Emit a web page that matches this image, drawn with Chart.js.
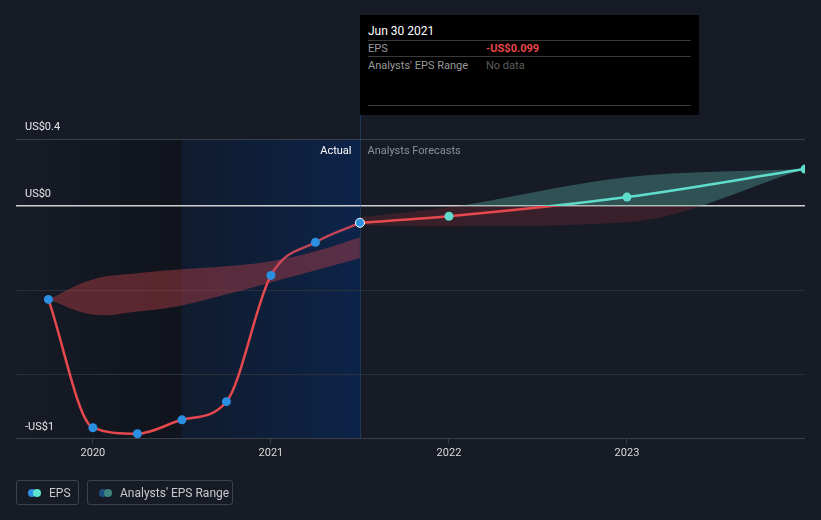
<!DOCTYPE html>
<html>
<head>
<meta charset="utf-8">
<script src="https://cdn.jsdelivr.net/npm/chart.js@4.4.1/dist/chart.umd.min.js"></script>
<style>
  html, body { margin: 0; padding: 0; background: #161b26; }
  body { width: 821px; height: 520px; position: relative; overflow: hidden; font-family: Roboto, "Noto Sans", sans-serif; }
  #wrap { position: absolute; left: 0; top: 0; width: 821px; height: 520px; }
  .tip { position: absolute; left: 360px; top: 15px; width: 339px; height: 100px; background: #000; }
  .tip .t { position: absolute; left: 8px; top: 9px; color: #fff; font-size: 12px; }
  .tip .sep { position: absolute; left: 8px; width: 323px; height: 1px; background: #3a3a3a; }
  .tip .k { position: absolute; left: 8px; color: #9a9a9a; font-size: 11px; }
  .tip .v { position: absolute; left: 126px; font-size: 11px; }
  .leg { position: absolute; top: 480px; height: 25px; border: 1px solid #3d434e; border-radius: 3px; box-sizing: border-box; color: #c9c9c9; font-size: 12px; }
  .leg .ic { position: absolute; top: 8px; width: 8px; height: 8px; border-radius: 50%; }
  .leg span.txt { position: absolute; top: 5px; white-space: nowrap; }
</style>
</head>
<body>
<div id="wrap"><canvas id="c" width="821" height="520"></canvas></div>

<div class="tip">
  <div class="t">Jun 30 2021</div>
  <div class="sep" style="top:25px"></div>
  <div class="k" style="top:27px">EPS</div>
  <div class="v" style="top:27px;color:#e8484a;font-weight:bold">-US$0.099</div>
  <div class="sep" style="top:41px"></div>
  <div class="k" style="top:44px">Analysts' EPS Range</div>
  <div class="v" style="top:44px;color:#5e5e5e">No data</div>
  <div class="sep" style="top:90px"></div>
</div>

<div class="leg" style="left:16px;width:63px">
  <div class="ic" style="left:11px;background:#2b8fe2"></div>
  <div class="ic" style="left:16px;background:#5fe3d2"></div>
  <span class="txt" style="left:32px">EPS</span>
</div>
<div class="leg" style="left:87px;width:146px">
  <div class="ic" style="left:11px;background:#1d4f7d"></div>
  <div class="ic" style="left:16px;background:#3e8481"></div>
  <span class="txt" style="left:32px">Analysts' EPS Range</span>
</div>

<script>
// ---- data ----
const actualDates = [2019.75, 2020.0, 2020.25, 2020.5, 2020.75, 2021.0, 2021.25, 2021.5];
const actualEps   = [-0.555, -1.319, -1.355, -1.272, -1.164, -0.412, -0.215, -0.099];

const pastRangeDates = [2019.75, 2020.0, 2020.25, 2020.5, 2020.75, 2021.0, 2021.25, 2021.5];
const pastRangeHigh  = [-0.555, -0.436, -0.400, -0.376, -0.358, -0.328, -0.269, -0.185];
const pastRangeLow   = [-0.555, -0.645, -0.627, -0.591, -0.525, -0.454, -0.382, -0.310];

const forecastDates = [2021.5, 2022.0, 2023.0, 2024.0];
const forecastEps   = [-0.099, -0.060, 0.054, 0.221];
const forecastHigh  = [-0.066, -0.006, 0.173, 0.221];
const forecastLow   = [-0.113, -0.119, -0.096, 0.221];

const yearTicks = [2020, 2021, 2022, 2023];
const yTickValues = [-1.385, -1.0, -0.5, 0, 0.4];
const yTickLabels = {"0.4": "US$0.4", "0": "US$0", "-1.385": "-US$1"};

const xMin = 2019.568, xMax = 2024.0;
const yMin = -1.385, yMax = 0.4;
const actualEnd = 2021.5, shadeStart = 2020.5;

// ---- helpers ----
const pts = (xs, ys) => xs.map((x, i) => ({x: x, y: ys[i]}));
const TEAL = '#5fdccb', RED = '#e5484d';

function splitGradient(chart, above, below) {
  const {ctx, chartArea, scales} = chart;
  if (!chartArea) return below;
  const y0 = scales.y.getPixelForValue(0);
  const g = ctx.createLinearGradient(0, chartArea.top, 0, chartArea.bottom);
  const s = Math.min(1, Math.max(0, (y0 - chartArea.top) / (chartArea.bottom - chartArea.top)));
  g.addColorStop(0, above); g.addColorStop(s, above);
  g.addColorStop(s, below); g.addColorStop(1, below);
  return g;
}

const bgPlugin = {
  id: 'bgPlugin',
  beforeDraw(chart) {
    const {ctx, chartArea: a, scales: {x}} = chart;
    ctx.save();
    ctx.fillStyle = '#161b26';
    ctx.fillRect(0, 0, chart.width, chart.height);
    const xs = x.getPixelForValue(shadeStart), xe = x.getPixelForValue(actualEnd);
    let g = ctx.createLinearGradient(a.left, 0, xs, 0);
    g.addColorStop(0, 'rgba(0,0,0,0)');
    g.addColorStop(1, 'rgba(0,0,0,0.28)');
    ctx.fillStyle = g;
    ctx.fillRect(a.left, a.top, xs - a.left, a.bottom - a.top);
    g = ctx.createLinearGradient(xs, 0, xe, 0);
    g.addColorStop(0, 'rgba(14,28,50,0.75)');
    g.addColorStop(1, 'rgba(12,36,75,0.95)');
    ctx.fillStyle = g;
    ctx.fillRect(xs, a.top, xe - xs, a.bottom - a.top);
    ctx.restore();
  },
  beforeDatasetsDraw(chart) {
    const {ctx, chartArea: a, scales: {x}} = chart;
    const xe = Math.round(x.getPixelForValue(actualEnd)) + 0.5;
    ctx.save();
    ctx.strokeStyle = 'rgba(40,90,160,0.45)';
    ctx.lineWidth = 1;
    ctx.beginPath(); ctx.moveTo(xe, 115); ctx.lineTo(xe, a.bottom); ctx.stroke();
    ctx.font = '11px Roboto, "Noto Sans", sans-serif';
    ctx.textBaseline = 'middle';
    ctx.textAlign = 'right'; ctx.fillStyle = '#ffffff';
    ctx.fillText('Actual', xe - 9, 151);
    ctx.textAlign = 'left'; ctx.fillStyle = '#8c9096';
    ctx.fillText('Analysts Forecasts', xe + 7, 151);
    ctx.restore();
  }
};

const chart = new Chart(document.getElementById('c'), {
  type: 'line',
  data: {
    datasets: [
      {
        label: 'EPS',
        data: pts(actualDates, actualEps),
        borderColor: RED,
        borderWidth: 2.5,
        cubicInterpolationMode: 'monotone',
        segment: { borderColor: c => (c.p0.parsed.x >= 2021 ? 'rgba(222,74,90,0.88)' : RED) },
        pointRadius: 4.5,
        pointBackgroundColor: '#2b8fe2',
        pointBorderColor: ['#2b8fe2','#2b8fe2','#2b8fe2','#2b8fe2','#2b8fe2','#2b8fe2','#2b8fe2','#ffffff'],
        pointBorderWidth: [0,0,0,0,0,0,0,1],
        fill: false,
        order: 0
      },
      {
        label: 'EPS forecast',
        data: pts(forecastDates, forecastEps),
        borderColor: c => splitGradient(c.chart, TEAL, RED),
        borderWidth: 2.5,
        cubicInterpolationMode: 'monotone',
        pointRadius: [0, 4.5, 4.5, 4.5],
        pointBackgroundColor: TEAL,
        pointBorderWidth: 0,
        fill: false,
        order: 1
      },
      {
        label: 'Past range high',
        data: pts(pastRangeDates, pastRangeHigh),
        borderWidth: 0, pointRadius: 0,
        tension: 0.4,
        backgroundColor: 'rgba(180,62,70,0.45)',
        fill: '+1',
        order: 5
      },
      {
        label: 'Past range low',
        data: pts(pastRangeDates, pastRangeLow),
        borderWidth: 0, pointRadius: 0,
        tension: 0.4,
        fill: false,
        order: 6
      },
      {
        label: 'Forecast range high',
        data: pts(forecastDates, forecastHigh),
        borderWidth: 0, pointRadius: 0,
        cubicInterpolationMode: 'monotone',
        backgroundColor: c => splitGradient(c.chart, 'rgba(88,170,158,0.38)', 'rgba(130,40,48,0.32)'),
        fill: '+1',
        order: 7
      },
      {
        label: 'Forecast range low',
        data: pts(forecastDates, forecastLow),
        borderWidth: 0, pointRadius: 0,
        cubicInterpolationMode: 'monotone',
        fill: false,
        order: 8
      }
    ]
  },
  options: {
    responsive: false,
    animation: false,
    events: [],
    layout: { padding: { left: 16, right: 16, top: 139, bottom: 57 } },
    plugins: { legend: { display: false }, tooltip: { enabled: false } },
    scales: {
      x: {
        type: 'linear', min: xMin, max: xMax,
        afterBuildTicks: s => { s.ticks = yearTicks.map(v => ({value: v})); },
        grid: { drawOnChartArea: false, drawTicks: true, tickLength: 5, color: '#3a404b' },
        border: { display: false },
        ticks: { color: '#d9d9d9', font: { size: 11, family: 'Roboto' }, padding: 3, callback: v => String(v) }
      },
      y: {
        type: 'linear', min: yMin, max: yMax,
        afterBuildTicks: s => { s.ticks = yTickValues.map(v => ({value: v})); },
        afterFit: s => { s.width = 0; },
        grid: {
          drawTicks: false,
          color: c => (c.tick && c.tick.value === 0 ? '#cfcfcf' : (c.tick && (c.tick.value === yMax || c.tick.value === yMin) ? '#3a404b' : '#2a303a')),
          lineWidth: c => (c.tick && c.tick.value === 0 ? 1.5 : 1)
        },
        border: { display: false },
        ticks: {
          mirror: true, padding: 9, labelOffset: -12,
          color: '#e6e6e6', font: { size: 11, family: 'Roboto' },
          callback: v => (yTickLabels[String(v)] || '')
        }
      }
    }
  },
  plugins: [bgPlugin]
});
</script>
</body>
</html>
